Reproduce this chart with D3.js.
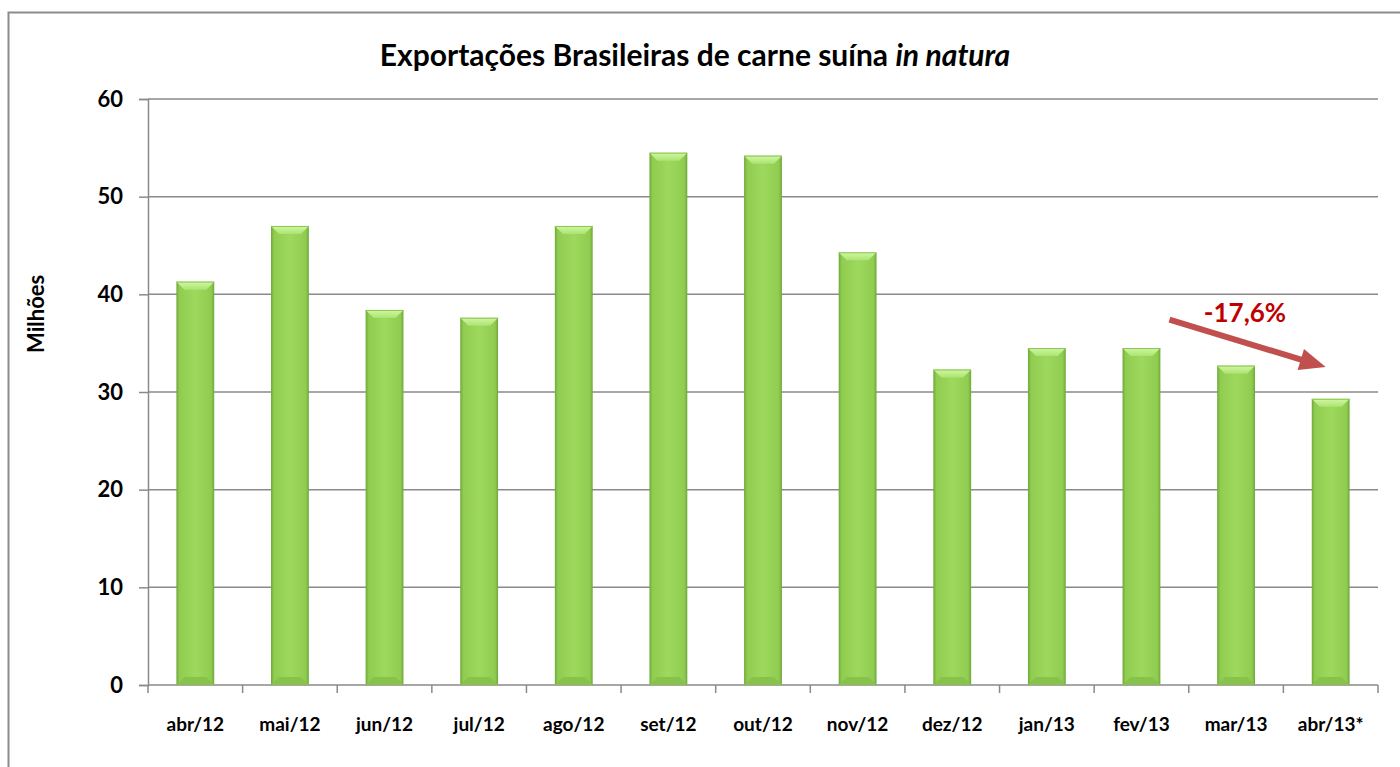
<!DOCTYPE html>
<html>
<head>
<meta charset="utf-8">
<script src="https://cdn.jsdelivr.net/npm/d3@7"></script>
<style>
  body { margin: 0; background: #fff; }
  svg { display: block; font-family: Lato, "Open Sans", sans-serif; }
  svg text { font-family: Lato, "Open Sans", sans-serif; }
</style>
</head>
<body>
<div id="chart"></div>
<script>
// Data
const months = ['abr/12', 'mai/12', 'jun/12', 'jul/12', 'ago/12', 'set/12', 'out/12',
  'nov/12', 'dez/12', 'jan/13', 'fev/13', 'mar/13', 'abr/13*'];
const exports = [41.3, 47.0, 38.4, 37.6, 47.0, 54.5, 54.2, 44.3, 32.3, 34.5, 34.5, 32.7, 29.3];
const yTicks = [0, 10, 20, 30, 40, 50, 60];
const changeLabel = '-17,6%';

const width = 1400, height = 767;
const margin = { left: 148, right: 22, top: 99, bottom: 82 };

const svg = d3.select('#chart').append('svg')
  .attr('width', width)
  .attr('height', height);

// gradients for bar bevel
const defs = svg.append('defs');
const grad = defs.append('linearGradient').attr('id', 'barGrad')
  .attr('x1', 0).attr('x2', 1).attr('y1', 0).attr('y2', 0);
grad.append('stop').attr('offset', '0%').attr('stop-color', '#6fa83a');
grad.append('stop').attr('offset', '8%').attr('stop-color', '#8fcc4f');
grad.append('stop').attr('offset', '50%').attr('stop-color', '#9ed95e');
grad.append('stop').attr('offset', '92%').attr('stop-color', '#8fcc4f');
grad.append('stop').attr('offset', '100%').attr('stop-color', '#6fa83a');

const topGrad = defs.append('linearGradient').attr('id', 'topGrad')
  .attr('x1', 0).attr('x2', 0).attr('y1', 0).attr('y2', 1);
topGrad.append('stop').attr('offset', '0%').attr('stop-color', '#d2f7a4');
topGrad.append('stop').attr('offset', '100%').attr('stop-color', '#abe472');

// outer border
svg.append('rect')
  .attr('x', 8.5).attr('y', 12.5)
  .attr('width', width + 10).attr('height', height + 10)
  .attr('fill', 'none')
  .attr('stroke', '#8c8c8c')
  .attr('stroke-width', 2);

const x = d3.scaleBand()
  .domain(months)
  .range([margin.left, width - margin.right])
  .paddingInner(0.6)
  .paddingOuter(0.3);

const y = d3.scaleLinear()
  .domain([0, 60])
  .range([height - margin.bottom, margin.top]);

// gridlines
svg.append('g')
  .selectAll('line')
  .data(yTicks.filter(d => d > 0))
  .join('line')
  .attr('x1', margin.left).attr('x2', width - margin.right)
  .attr('y1', d => y(d)).attr('y2', d => y(d))
  .attr('stroke', '#8a8a8a')
  .attr('stroke-width', 1.5);

// y axis
const yAxis = svg.append('g')
  .attr('transform', `translate(${margin.left},0)`)
  .call(d3.axisLeft(y).tickValues(yTicks).tickSize(9).tickPadding(16));
yAxis.attr('font-family', null);
yAxis.select('.domain').attr('stroke', '#8a8a8a').attr('stroke-width', 1.5);
yAxis.selectAll('.tick line').attr('stroke', '#8a8a8a').attr('stroke-width', 1.5);
yAxis.selectAll('text')
  .attr('font-size', 22)
  .attr('font-weight', 'bold')
  .attr('fill', '#000');

// x axis with ticks between categories
const xAxisG = svg.append('g')
  .attr('transform', `translate(0,${y(0)})`);
xAxisG.append('line')
  .attr('x1', margin.left).attr('x2', width - margin.right)
  .attr('stroke', '#8a8a8a').attr('stroke-width', 1.5);
const step = x.step();
const boundaries = d3.range(months.length + 1).map(i => margin.left + i * (width - margin.right - margin.left) / months.length);
xAxisG.selectAll('.xtick')
  .data(boundaries)
  .join('line')
  .attr('class', 'xtick')
  .attr('x1', d => d).attr('x2', d => d)
  .attr('y1', 0).attr('y2', 8)
  .attr('stroke', '#8a8a8a').attr('stroke-width', 1.5);
xAxisG.selectAll('.xlabel')
  .data(months)
  .join('text')
  .attr('class', 'xlabel')
  .attr('x', d => x(d) + x.bandwidth() / 2)
  .attr('y', 46)
  .attr('text-anchor', 'middle')
  .attr('font-size', 19)
  .attr('font-weight', 'bold')
  .text(d => d);

// bars
const bars = svg.append('g')
  .selectAll('g')
  .data(months.map((m, i) => ({ m, v: exports[i] })))
  .join('g');

bars.append('rect')
  .attr('x', d => x(d.m))
  .attr('y', d => y(d.v))
  .attr('width', x.bandwidth())
  .attr('height', d => y(0) - y(d.v))
  .attr('fill', 'url(#barGrad)');

// top bevel
const bevel = 8;
bars.append('path')
  .attr('d', d => {
    const x0 = x(d.m), x1 = x0 + x.bandwidth(), t = y(d.v);
    return `M${x0},${t}L${x1},${t}L${x1 - bevel},${t + bevel}L${x0 + bevel},${t + bevel}Z`;
  })
  .attr('fill', 'url(#topGrad)');
// bottom bevel
bars.append('path')
  .attr('d', d => {
    const x0 = x(d.m), x1 = x0 + x.bandwidth(), b = y(0);
    return `M${x0},${b}L${x1},${b}L${x1 - bevel},${b - bevel}L${x0 + bevel},${b - bevel}Z`;
  })
  .attr('fill', '#86c24c');
bars.append('line')
  .attr('x1', d => x(d.m)).attr('x2', d => x(d.m) + x.bandwidth())
  .attr('y1', d => y(d.v) + 0.5).attr('y2', d => y(d.v) + 0.5)
  .attr('stroke', '#8cc455').attr('stroke-width', 1);

// title
const title = svg.append('text')
  .attr('x', 695).attr('y', 66)
  .attr('text-anchor', 'middle')
  .attr('font-size', 30)
  .attr('font-weight', 'bold');
title.append('tspan').text('Exportações Brasileiras de carne suína ');
title.append('tspan').attr('font-style', 'italic').text('in natura');

// y label
svg.append('text')
  .attr('transform', `translate(44,${y(38)}) rotate(-90)`)
  .attr('text-anchor', 'middle')
  .attr('font-size', 22)
  .attr('font-weight', 'bold')
  .text('Milhões');

// arrow annotation
const xStart = x('fev/13') + x.bandwidth() / 2 + 28;
const xEnd = x('abr/13*') + x.bandwidth() / 2 - 5;
const yStart = y(37.4), yEnd = y(32.55);
const ang = Math.atan2(yEnd - yStart, xEnd - xStart);
const headLen = 26, headHalf = 11;
const bx = xEnd - headLen * Math.cos(ang), by = yEnd - headLen * Math.sin(ang);
svg.append('line')
  .attr('x1', xStart).attr('y1', yStart)
  .attr('x2', bx + 2 * Math.cos(ang)).attr('y2', by + 2 * Math.sin(ang))
  .attr('stroke', '#c0504d')
  .attr('stroke-width', 6);
svg.append('path')
  .attr('d', `M${xEnd},${yEnd}L${bx - headHalf * Math.sin(ang)},${by + headHalf * Math.cos(ang)}L${bx + headHalf * Math.sin(ang)},${by - headHalf * Math.cos(ang)}Z`)
  .attr('fill', '#c0504d');
svg.append('text')
  .attr('x', 1245).attr('y', 322)
  .attr('text-anchor', 'middle')
  .attr('font-size', 26)
  .attr('font-weight', 'bold')
  .attr('fill', '#c00000')
  .text(changeLabel);
</script>
</body>
</html>
